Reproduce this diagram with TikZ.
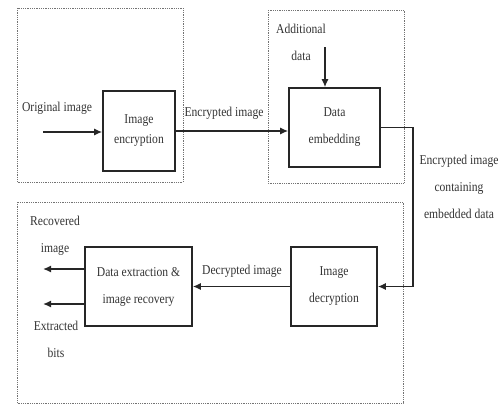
\documentclass[tikz,border=0pt]{standalone}
\usepackage{fontspec}
\setmainfont{Liberation Serif}[FakeStretch=0.86]
\usetikzlibrary{arrows.meta}
\begin{document}
\begin{tikzpicture}[x=1pt,y=-1pt,
  every node/.style={font=\fontsize{13.5}{27}\selectfont, text=black!80},
  blk/.style={draw=black!85, line width=1.6pt, minimum width=#1, inner sep=0pt},
  grp/.style={draw=black!55, densely dotted, line width=0.8pt},
  lbl/.style={align=center, inner sep=1pt},
  arr/.style={line width=1.4pt, draw=black!85, -{Latex[length=8pt,width=7pt]}},
  wire/.style={line width=1.4pt, draw=black!85}]
\useasboundingbox (0,0) rectangle (502,405);
% group boxes
\draw[grp] (17,8) rectangle (183,182);
\draw[grp] (268,10) rectangle (404,183);
\draw[grp] (17,202) rectangle (403,403);
% blocks
\node[blk=72pt, minimum height=80pt, align=center, font=\fontsize{13.5}{20}\selectfont] (enc) at (139,131) {Image\\encryption};
\node[blk=91pt, minimum height=79pt, align=center] (emb) at (334.5,127.5) {Data\\embedding};
\node[blk=86pt, minimum height=79pt, align=center] (dec) at (334,286.5) {Image\\decryption};
\node[blk=107pt, minimum height=79pt, align=center] (ext) at (138.5,286.5) {Data extraction \&\\image recovery};
% free ends
\coordinate (orig) at (43,132);
\coordinate (add) at (325,47);
\coordinate (turn) at (413,127);
\coordinate (rec) at (43,269);
\coordinate (bits) at (43,304);
% labels
\node[lbl] (lorig) at (57,108) {Original image};
\node[lbl] (lenc) at (224,113) {Encrypted image};
\node[lbl] (ladd) at (301,42) {Additional\\data};
\node[lbl] (lemb) at (459,187) {Encrypted image\\containing\\embedded data};
\node[lbl] (ldec) at (242,271) {Decrypted image};
\node[lbl] (lrec) at (55,236) {Recovered\\image};
\node[lbl] (lbits) at (56,339) {Extracted\\bits};
% connectors
\draw[arr] (orig) -- (orig -| enc.west);
\draw[arr] (enc.east) -- (enc.east -| emb.west);
\draw[arr] (add) -- (add |- emb.north);
\draw[arr] (emb.east) -- (emb.east -| turn) |- (dec.east);
\draw[arr] (dec.west) -- (ext.east);
\draw[arr] (rec -| ext.west) -- (rec);
\draw[arr] (bits -| ext.west) -- (bits);
\end{tikzpicture}
\end{document}
